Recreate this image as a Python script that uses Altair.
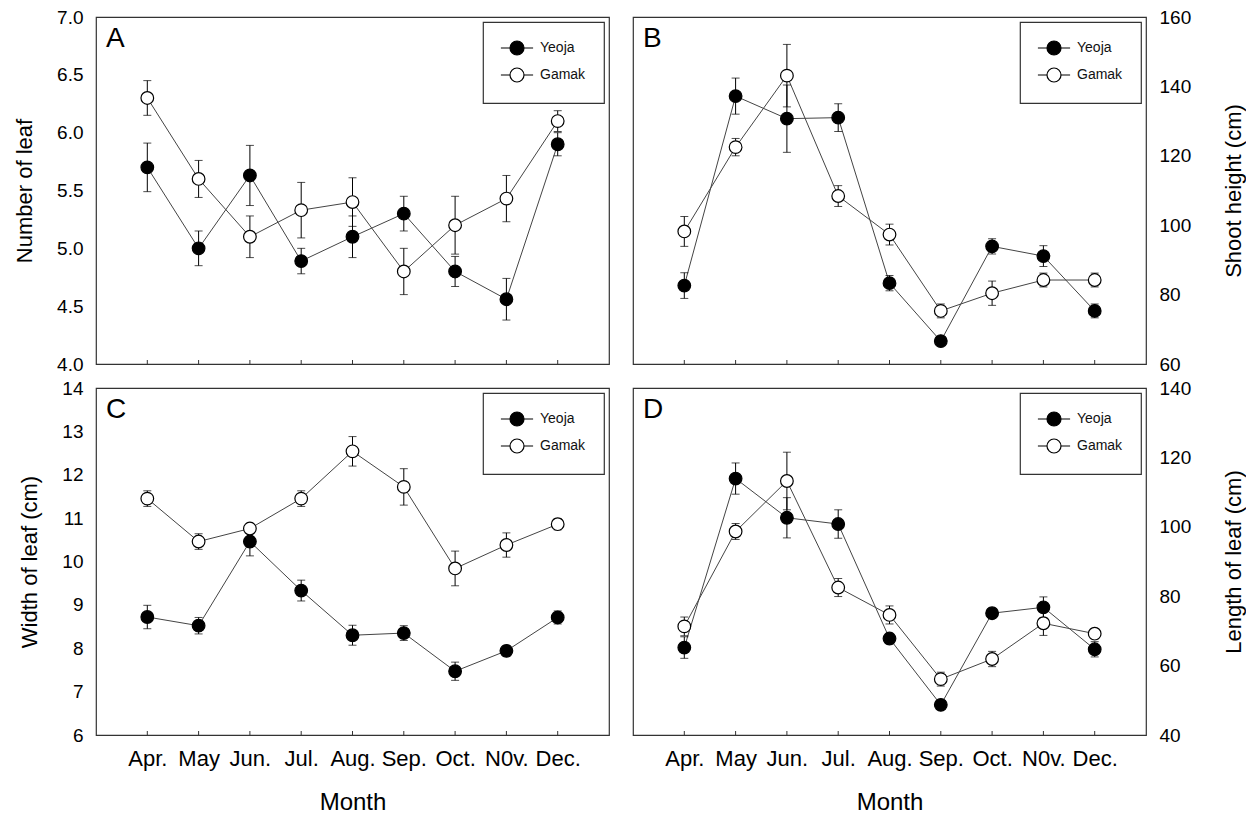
import altair as alt
import pandas as pd

FONT = "Liberation Sans"
MONTHS = ["Apr.", "May", "Jun.", "Jul.", "Aug.", "Sep.", "Oct.", "N0v.", "Dec."]
SERIES = ["Yeoja", "Gamak"]

# A: number of leaves (mean, standard error)
A_YEOJA = [5.70, 5.00, 5.63, 4.89, 5.10, 5.30, 4.80, 4.56, 5.90]
A_YEOJA_ERR = [0.21, 0.15, 0.26, 0.11, 0.18, 0.15, 0.13, 0.18, 0.10]
A_GAMAK = [6.30, 5.60, 5.10, 5.33, 5.40, 4.80, 5.20, 5.43, 6.10]
A_GAMAK_ERR = [0.15, 0.16, 0.18, 0.24, 0.21, 0.20, 0.25, 0.20, 0.09]

# B: shoot height (cm)
B_YEOJA = [82.6, 137.2, 130.7, 131.0, 83.3, 66.6, 93.9, 91.1, 75.3]
B_YEOJA_ERR = [3.7, 5.2, 9.7, 4.0, 2.2, 1.0, 2.2, 3.0, 2.0]
B_GAMAK = [98.2, 122.5, 143.1, 108.4, 97.3, 75.3, 80.4, 84.2, 84.2]
B_GAMAK_ERR = [4.3, 2.5, 9.0, 3.0, 3.0, 2.0, 3.5, 2.0, 2.0]

# C: width of leaf (cm)
C_YEOJA = [8.72, 8.52, 10.46, 9.33, 8.30, 8.35, 7.47, 7.94, 8.71]
C_YEOJA_ERR = [0.27, 0.19, 0.33, 0.24, 0.23, 0.17, 0.21, 0.12, 0.15]
C_GAMAK = [11.45, 10.46, 10.76, 11.45, 12.54, 11.72, 9.84, 10.38, 10.86]
C_GAMAK_ERR = [0.18, 0.18, 0.12, 0.18, 0.34, 0.42, 0.40, 0.28, 0.13]

# D: length of leaf (cm)
D_YEOJA = [65.2, 113.9, 102.6, 100.8, 67.8, 48.7, 75.1, 76.8, 64.7]
D_YEOJA_ERR = [3.1, 4.5, 5.8, 4.1, 1.5, 1.0, 1.5, 3.0, 2.2]
D_GAMAK = [71.3, 98.65, 113.2, 82.5, 74.6, 56.1, 61.9, 72.2, 69.2]
D_GAMAK_ERR = [2.7, 2.3, 8.3, 2.6, 2.6, 2.0, 2.2, 3.5, 1.5]

W, H = 513, 347

# legend glyph: a circle with a short line through it
LEGEND_SYMBOL = "M-1,0A1,1,0,1,1,1,0A1,1,0,1,1,-1,0Z M-2.3,0L-1,0 M1,0L2.3,0"


def panel(yeoja, yeoja_err, gamak, gamak_err, letter, y_title,
          y_domain, y_ticks, y_fmt, side, bottom_row):
    rows = []
    for name, vals, errs in (("Yeoja", yeoja, yeoja_err), ("Gamak", gamak, gamak_err)):
        for m, v, e in zip(MONTHS, vals, errs):
            rows.append({"month": m, "series": name, "mean": v,
                         "lo": v - e, "hi": v + e})
    df = pd.DataFrame(rows)

    x_axis_kw = dict(labels=bottom_row, labelAngle=0)
    x_axis_kw["title"] = "Month" if bottom_row else ""
    x = alt.X("month:N", scale=alt.Scale(type="point", domain=MONTHS, padding=1),
              axis=alt.Axis(**x_axis_kw))

    y_axis_kw = dict(orient=side, values=y_ticks, format=y_fmt, title=y_title,
                     labelOverlap=False)
    if side == "right":
        y_axis_kw.update(titleAngle=270, titleBaseline="top", titlePadding=33)
    else:
        y_axis_kw.update(titlePadding=20)
    y_scale = alt.Scale(domain=y_domain, nice=False, zero=False)
    y_axis = alt.Axis(**y_axis_kw)

    base = alt.Chart(df)
    lines = base.mark_line(color="#444", strokeWidth=1).encode(
        x=x, y=alt.Y("mean:Q", scale=y_scale, axis=y_axis), detail="series:N")
    bars = base.mark_rule(color="black", strokeWidth=1).encode(
        x=x, y=alt.Y("lo:Q", scale=y_scale, axis=y_axis), y2="hi:Q")
    caps_lo = base.mark_tick(orient="horizontal", size=8, thickness=1, color="black").encode(
        x=x, y=alt.Y("lo:Q", scale=y_scale, axis=y_axis))
    caps_hi = base.mark_tick(orient="horizontal", size=8, thickness=1, color="black").encode(
        x=x, y=alt.Y("hi:Q", scale=y_scale, axis=y_axis))
    points = base.mark_circle(size=160, stroke="black", strokeWidth=1.2, opacity=1).encode(
        x=x, y=alt.Y("mean:Q", scale=y_scale, axis=y_axis),
        fill=alt.Fill(
            "series:N", title=None,
            scale=alt.Scale(domain=SERIES, range=["black", "white"]),
            legend=alt.Legend(
                orient="top-right", offset=5, padding=18,
                strokeColor="#333", fillColor="white",
                symbolType=LEGEND_SYMBOL, symbolSize=196,
                symbolStrokeColor="black", symbolStrokeWidth=1.2,
                symbolOffset=8, labelOffset=15, rowPadding=7,
                labelFont=FONT, labelFontSize=14, labelColor="#111",
            ),
        ),
    )
    # inward tick marks along the bottom edge
    ticks = alt.Chart(pd.DataFrame({"month": MONTHS})).mark_rule(
        color="#333", strokeWidth=1).encode(
        x=x, y=alt.value(H - 4), y2=alt.value(H))
    tag = alt.Chart(pd.DataFrame({"tag": [letter]})).mark_text(
        align="left", baseline="alphabetic", fontSize=28, font=FONT, color="black").encode(
        text="tag:N", x=alt.value(10), y=alt.value(30))

    return alt.layer(lines, bars, caps_lo, caps_hi, points, ticks, tag).properties(
        width=W, height=H)


pa = panel(A_YEOJA, A_YEOJA_ERR, A_GAMAK, A_GAMAK_ERR, "A", "Number of leaf",
           [4.0, 7.0], [4.0, 4.5, 5.0, 5.5, 6.0, 6.5, 7.0], ".1f", "left", False)
pb = panel(B_YEOJA, B_YEOJA_ERR, B_GAMAK, B_GAMAK_ERR, "B", "Shoot height (cm)",
           [60, 160], [60, 80, 100, 120, 140, 160], "d", "right", False)
pc = panel(C_YEOJA, C_YEOJA_ERR, C_GAMAK, C_GAMAK_ERR, "C", "Width of leaf (cm)",
           [6, 14], [6, 7, 8, 9, 10, 11, 12, 13, 14], "d", "left", True)
pd_ = panel(D_YEOJA, D_YEOJA_ERR, D_GAMAK, D_GAMAK_ERR, "D", "Length of leaf (cm)",
            [40, 140], [40, 60, 80, 100, 120, 140], "d", "right", True)

chart = alt.concat(
    pa, pb, pc, pd_, columns=2, bounds="flush",
    spacing={"row": 24, "column": 24},
).resolve_scale(
    x="independent", y="independent", fill="independent"
).properties(
    padding={"left": 12, "top": 7, "right": 0, "bottom": 0}
).configure_view(
    stroke="#333", strokeWidth=1.2
).configure_axis(
    labelFont=FONT, titleFont=FONT, labelColor="black", titleColor="black",
    titleFontWeight="normal", grid=False, domain=False, ticks=False, labelPadding=13,
).configure_axisX(
    labelFontSize=22, titleFontSize=24, labelPadding=13, titlePadding=21,
).configure_axisY(
    labelFontSize=19, titleFontSize=22,
).configure_legend(
    strokeWidth=1.2,
)

chart.save("out.html", embed_options={"renderer": "svg", "actions": False})
